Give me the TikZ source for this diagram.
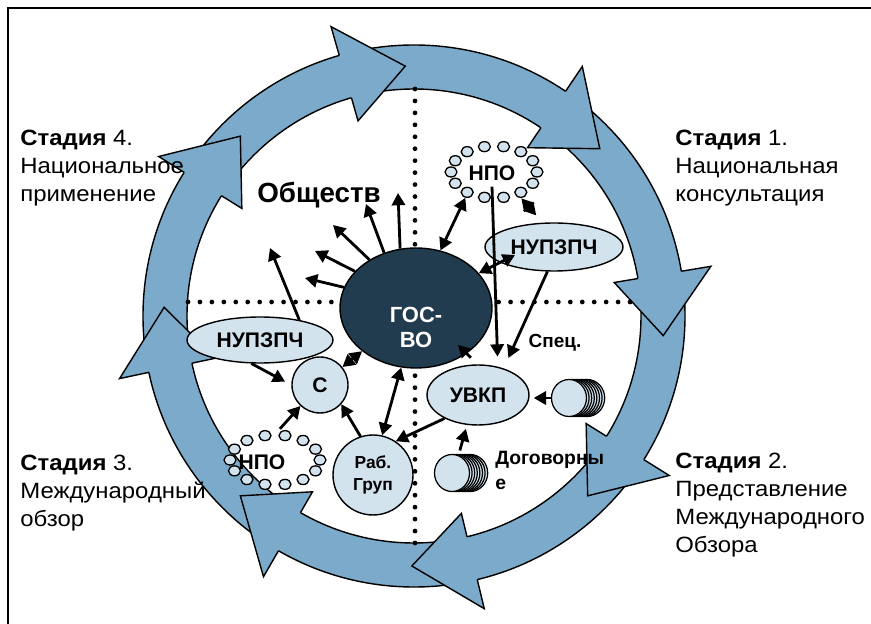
\documentclass[tikz,border=0pt]{standalone}
\usepackage{fontspec}
\setmainfont{Liberation Sans}
\newfontfamily\stagefont{Liberation Sans}[FakeStretch=1.08]
\usetikzlibrary{arrows.meta,shapes.geometric}
\definecolor{ringblue}{RGB}{124,170,202}
\definecolor{paleblue}{RGB}{211,227,238}
\definecolor{govnavy}{RGB}{33,59,79}
\def\ringhead(#1){\fill[ringblue] ({#1+14}:203) -- (#1:250) -- ({#1+14}:301) -- cycle; \draw[line width=0.8pt] ({#1+14}:227) -- ({#1+14}:203) -- (#1:250) -- ({#1+14}:301) -- ({#1+14}:271);}

\begin{document}
\begin{tikzpicture}[x=0.02cm, y=0.02cm,
		arr/.style={-{Triangle[length=7pt,width=7.5pt]}, line width=1.6pt},
		dbl/.style={{Triangle[length=7pt,width=7.5pt]}-{Triangle[length=7pt,width=7.5pt]}, line width=1.6pt},
		oval/.style={ellipse, draw, line width=0.8pt, fill=paleblue, inner sep=0pt, font=\bfseries\fontsize{12}{14}\selectfont},
		bead/.style={draw, line width=0.75pt, fill=paleblue},
		disk/.style={draw, line width=0.7pt, fill=paleblue},
		dots/.style={line width=2.7pt, line cap=round, dash pattern=on 0pt off 6.8pt},
		stage/.style={anchor=west, align=left, inner sep=0pt, font=\stagefont\fontsize{12.6}{15.9}\selectfont}]
			%%%%% START %%%%%
			
			\useasboundingbox (-414,-308) rectangle (457,316);
			\draw[line width=0.8pt] (-406,-330) -- (-406,308) -- (470,308);
			
			\draw[fill=ringblue, even odd rule, line width=0.8pt] (0,0) circle (271) (0,0) circle (227);
			\ringhead(92); \ringhead(42); \ringhead(-4.5); \ringhead(-46);
			\ringhead(-90.5); \ringhead(-134); \ringhead(178); \ringhead(134);
			
			\draw[dots] (1,227) -- (1,-227);
			\draw[dots] (-226,14) -- (226,14);
			
			\node[ellipse, draw, line width=0.8pt, fill=govnavy, minimum width=3.04cm, minimum height=2.4cm] (gos) at (2,8) {};
			\node[text=white, align=center, font=\bfseries\fontsize{12.5}{14.2}\selectfont] (govt) at (2,-11) {ГОС-\\ВО};
			
			\node[oval, minimum width=2.76cm, minimum height=0.96cm] (nupt) at (140,69) {НУПЗПЧ};
			\node[oval, minimum width=2.92cm, minimum height=0.92cm] (nupl) at (-154,-24) {НУПЗПЧ};
			\node[oval, minimum width=2.04cm, minimum height=1.2cm] (uvkp) at (64,-79) {УВКП};
			\node[oval, circle, minimum size=1.12cm] (c) at (-94,-69) {С};
			\node[oval, circle, minimum size=1.6cm, align=center, font=\bfseries\fontsize{9.9}{13}\selectfont] (rab) at (-41,-159) {Раб.\\Груп};
			
			\node[ellipse, minimum width=2cm, minimum height=1.24cm, inner sep=0pt] (npot) at (80,144) {};
			\foreach \i in {0,...,13}
				\draw[bead] ([shift={({\i*360/14}:43 and 26)}]npot.center) ellipse (6 and 5);
			\node[font=\bfseries\fontsize{12}{14}\selectfont] (npott) at (78,143) {НПО};
			
			\node[ellipse, minimum width=2cm, minimum height=1.24cm, inner sep=0pt] (npob) at (-139,-144) {};
			\foreach \i in {0,...,13}
				\draw[bead] ([shift={({\i*360/14}:45 and 25)}]npob.center) ellipse (6 and 5);
			\node[font=\bfseries\fontsize{12}{14}\selectfont] (npobt) at (-152,-146) {НПО};
			
			\foreach \i in {7,6,...,1}
				\draw[disk] (155+\i*2.6,-82) ellipse (17.5 and 18.5);
			\node[disk, ellipse, minimum width=0.7cm, minimum height=0.74cm, inner sep=0pt] (stkr) at (155,-82) {};
			\foreach \i in {7,6,...,1}
				\draw[disk] (38+\i*2.6,-157) ellipse (17.5 and 18.5);
			\node[disk, ellipse, minimum width=0.7cm, minimum height=0.74cm, inner sep=0pt] (stkb) at (38,-157) {};
			
			\node[font=\bfseries\fontsize{15.8}{18}\selectfont] (soc) at (-95,121) {Обществ};
			\node[font=\bfseries\fontsize{10.8}{13}\selectfont] (spec) at (141,-27) {Спец.};
			\node[anchor=west, align=left, inner sep=0pt, font=\bfseries\fontsize{11}{14.2}\selectfont] (dog) at (81,-154) {Договорны\\е};
			
			\coordinate (s1) at (-16,123);
			\coordinate (s2) at (-48,112);
			\coordinate (s3) at (-81,91);
			\coordinate (s4) at (-99,65);
			\coordinate (s5) at (-109,38);
			\coordinate (s6) at (-144,68);
			\coordinate (nin) at (101,61);
			\coordinate (gv) at (44,-29);
			
			\draw[arr] (gos.105) -- (s1);
			\draw[arr] (gos.120) -- (s2);
			\draw[arr] (gos.134) -- (s3);
			\draw[arr] (gos.149) -- (s4);
			\draw[arr] (gos.164) -- (s5);
			\draw[arr] (nupl.27) -- (s6);
			
			\draw[dbl] (npot.222) -- (gos.67);
			\draw[dbl, shorten >=5.5pt] (npot.-44) -- (nupt.115);
			\draw[dbl] (nin) -- (gos.29);
			\draw[arr, shorten >=5.7pt] (npott.south) -- (uvkp.55);
			\draw[arr, shorten >=6.5pt] (nupt.255) -- (uvkp.46);
			\draw[arr, shorten <=-3.4pt] (gos.-42) -- (gv);
			
			\draw[dbl] (c) -- (gos);
			\draw[arr, shorten >=4pt] (nupl.250) -- (c.west);
			\draw[arr] (npob.81) -- (c.227);
			\draw[arr] (rab.108) -- (c.-42);
			\draw[dbl] (rab.77) -- (gos.256);
			\draw[arr] (uvkp.215) -- (rab.56);
			
			\draw[arr, shorten >=2.3pt] (stkr.west) -- (stkr.west -| uvkp.east);
			\draw[arr, shorten <=2.8pt, shorten >=2.3pt] (stkb.70) -- (uvkp.250);
			
			\node[stage] (st4) at (-394,148) {\textbf{Стадия} 4.\\Национальное\\применение};
			\node[stage] (st1) at (261,148) {\textbf{Стадия} 1.\\Национальная\\консультация};
			\node[stage] (st3) at (-394,-177) {\textbf{Стадия} 3.\\Международный\\обзор};
			\node[stage] (st2) at (261,-189) {\textbf{Стадия} 2.\\Представление\\Международного\\Обзора};
			
			%%%%% END %%%%%
		\end{tikzpicture}
\end{document}
